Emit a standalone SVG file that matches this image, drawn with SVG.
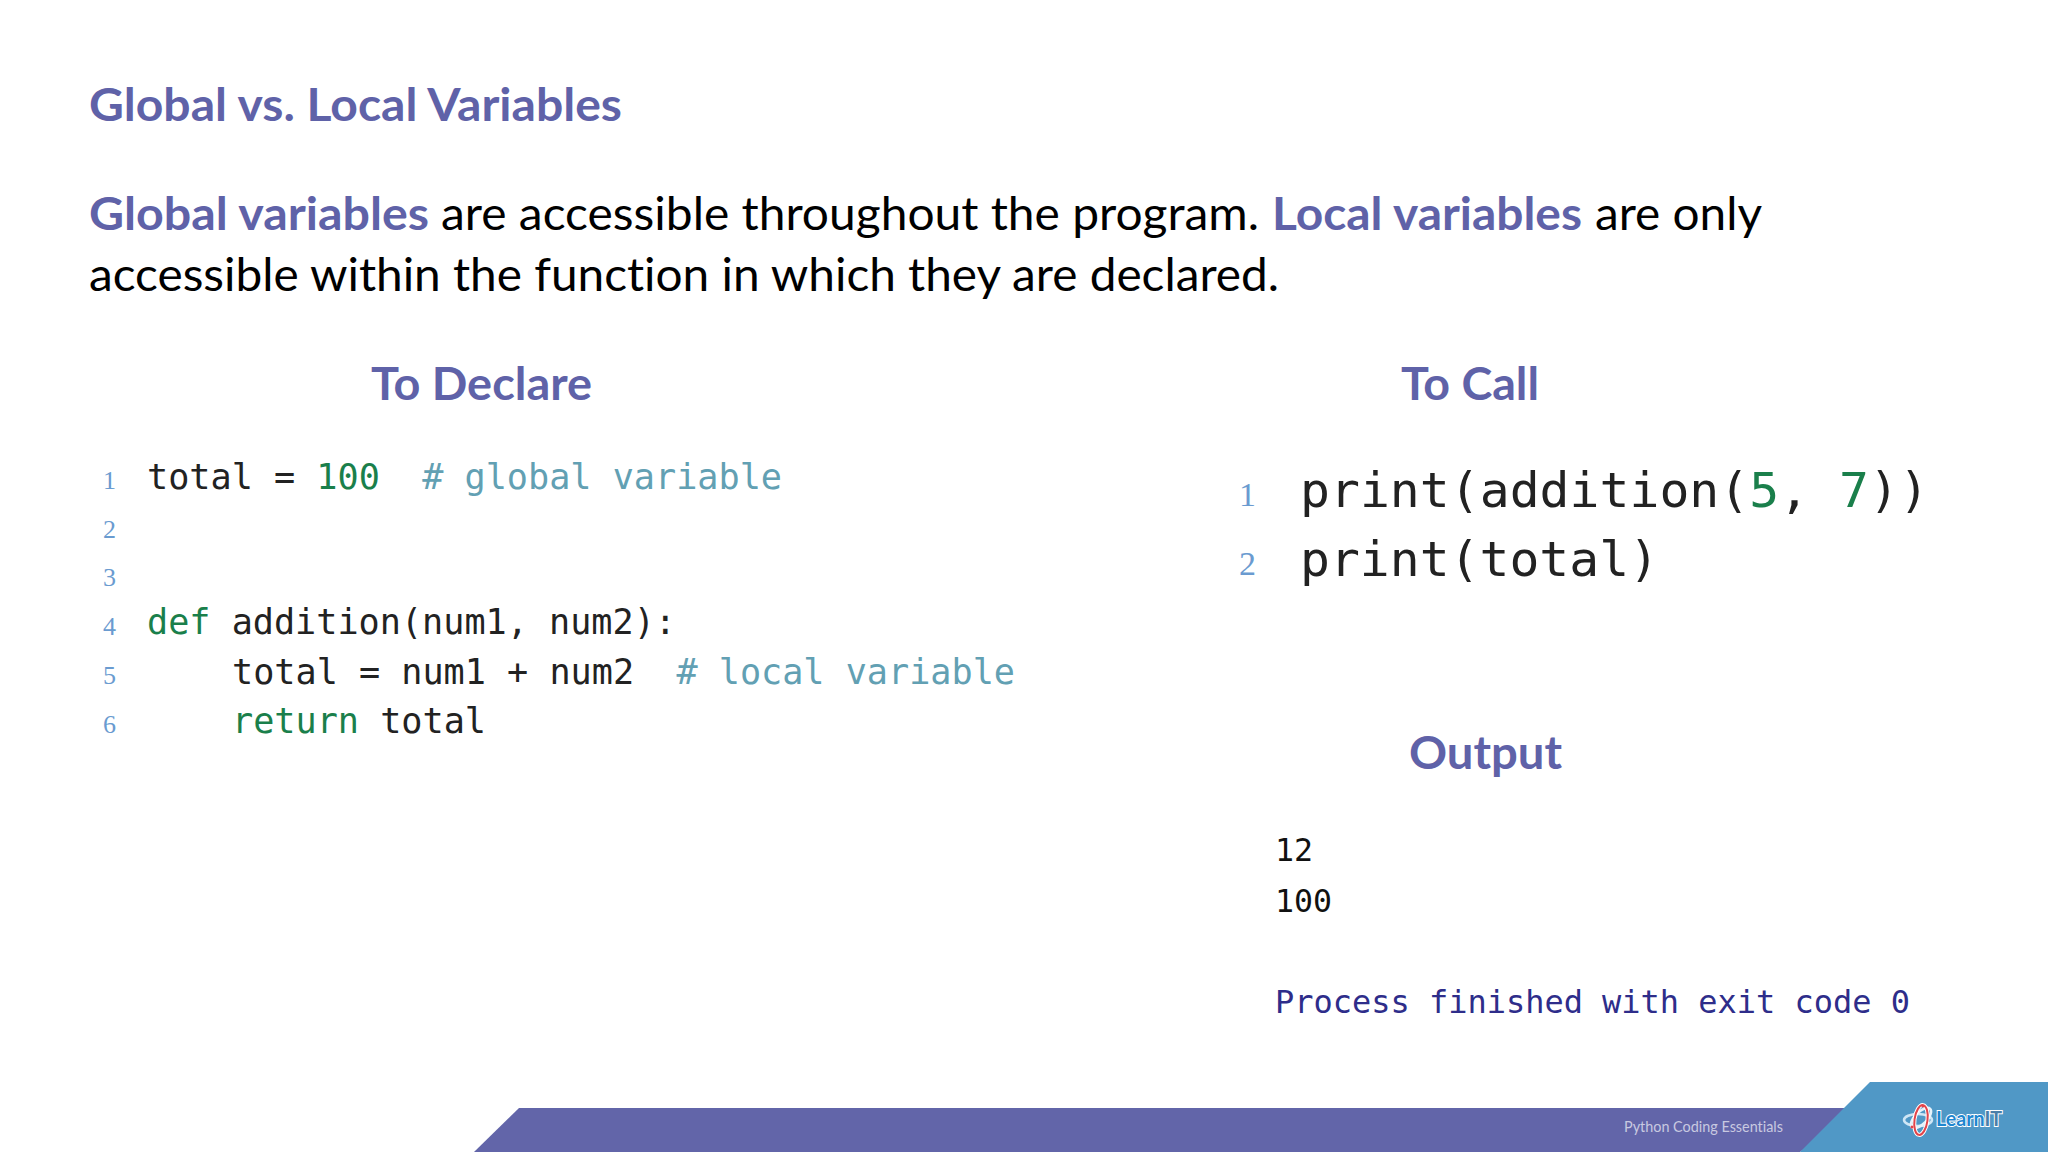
<svg xmlns="http://www.w3.org/2000/svg" width="2048" height="1152" viewBox="0 0 2048 1152">
<style>
text{font-variant-ligatures:none;white-space:pre}
.b{font-family:"Lato","Open Sans","Liberation Sans",sans-serif;fill:#000;font-size:46px}
.h{font-family:"Lato","Open Sans","Liberation Sans",sans-serif;font-weight:700;fill:#5f62a8}
.c{font-family:"DejaVu Sans Mono","Liberation Mono",monospace;fill:#222;font-size:35px}
.p{font-size:48px}
.o{font-family:"DejaVu Sans Mono","Liberation Mono",monospace;font-size:32px;fill:#111}
.g{fill:#1a7f4b}.m{fill:#62a0b3}
.n{font-family:"Liberation Serif",serif;fill:#6a9bd0;font-size:26px}
.n2{font-size:34px}
</style>
<rect width="2048" height="1152" fill="#fff"/>
<g id="title"><text class="h" x="89" y="121" font-size="45" textLength="533" lengthAdjust="spacingAndGlyphs">Global vs. Local Variables</text></g>
<g id="intro">
<text class="h" x="89" y="230" font-size="46" textLength="340" lengthAdjust="spacingAndGlyphs">Global variables</text>
<text class="b" x="441" y="230" textLength="818" lengthAdjust="spacingAndGlyphs">are accessible throughout the program.</text>
<text class="h" x="1272" y="230" font-size="46" textLength="310" lengthAdjust="spacingAndGlyphs">Local variables</text>
<text class="b" x="1595" y="230" textLength="167" lengthAdjust="spacingAndGlyphs">are only</text>
<text class="b" x="89" y="291" textLength="1190" lengthAdjust="spacingAndGlyphs">accessible within the function in which they are declared.</text>
</g>
<g id="declare">
<text class="h" x="371" y="400" font-size="45" textLength="221" lengthAdjust="spacingAndGlyphs">To Declare</text>
<text class="n" x="103" y="489">1</text><text class="n" x="103" y="538">2</text><text class="n" x="103" y="586">3</text><text class="n" x="103" y="635">4</text><text class="n" x="103" y="684">5</text><text class="n" x="103" y="733">6</text>
<text class="c" x="147" y="489" textLength="635" lengthAdjust="spacingAndGlyphs" xml:space="preserve">total = <tspan class="g">100</tspan>  <tspan class="m"># global variable</tspan></text>
<text class="c" x="147" y="634" textLength="529" lengthAdjust="spacingAndGlyphs" xml:space="preserve"><tspan class="g">def</tspan> addition(num1, num2):</text>
<text class="c" x="232" y="684" textLength="783" lengthAdjust="spacingAndGlyphs" xml:space="preserve">total = num1 + num2  <tspan class="m"># local variable</tspan></text>
<text class="c" x="232" y="733" textLength="254" lengthAdjust="spacingAndGlyphs" xml:space="preserve"><tspan class="g">return</tspan> total</text>
</g>
<g id="call">
<text class="h" x="1401" y="400" font-size="45" textLength="138" lengthAdjust="spacingAndGlyphs">To Call</text>
<text class="n n2" x="1239" y="506">1</text><text class="n n2" x="1239" y="575">2</text>
<text class="c p" x="1300" y="507" textLength="629" lengthAdjust="spacingAndGlyphs">print(addition(<tspan class="g">5</tspan>, <tspan class="g">7</tspan>))</text>
<text class="c p" x="1300" y="576" textLength="359" lengthAdjust="spacingAndGlyphs">print(total)</text>
</g>
<g id="output">
<text class="h" x="1409" y="769" font-size="45" textLength="153" lengthAdjust="spacingAndGlyphs">Output</text>
<text class="o" x="1275" y="861" textLength="38" lengthAdjust="spacingAndGlyphs">12</text>
<text class="o" x="1275" y="912" textLength="57" lengthAdjust="spacingAndGlyphs">100</text>
<text class="o" x="1275" y="1013" textLength="635" lengthAdjust="spacingAndGlyphs" style="fill:#2e2d8a">Process finished with exit code 0</text>
</g>
<g id="footer">
<polygon points="519,1108 1860,1108 1800,1152 474,1152" fill="#6265a9"/>
<polygon points="1870,1082 2048,1082 2048,1152 1800,1152" fill="#5098c6"/>
<text x="1624" y="1132" font-family="Lato,'Open Sans',sans-serif" font-size="16" fill="#c8c9e0" textLength="159" lengthAdjust="spacingAndGlyphs">Python Coding Essentials</text>
<g id="logo" fill="none">
<ellipse cx="1918" cy="1120" rx="14" ry="6" stroke="#cfe6f5" stroke-width="2.5"/>
<ellipse cx="1921" cy="1118" rx="13" ry="6" stroke="#e6f2fa" stroke-width="2.5" transform="rotate(-45 1921 1118)"/>
<ellipse cx="1921" cy="1120" rx="6.5" ry="15" stroke="#fff" stroke-width="4" transform="rotate(8 1921 1120)"/>
<ellipse cx="1921" cy="1120" rx="6.5" ry="15" stroke="#e2444a" stroke-width="2" transform="rotate(8 1921 1120)"/>
<circle cx="1912" cy="1127" r="1.5" fill="#e2444a"/><circle cx="1923" cy="1106" r="1.5" fill="#e2444a"/>
<text x="1936" y="1126" font-family="Lato,sans-serif" font-weight="700" font-size="21" fill="#1f86cf" stroke="#fff" stroke-width="2" paint-order="stroke" textLength="66" lengthAdjust="spacingAndGlyphs">Learn<tspan fill="#4a7ea8">IT</tspan></text>
</g>
</g>
</svg>
